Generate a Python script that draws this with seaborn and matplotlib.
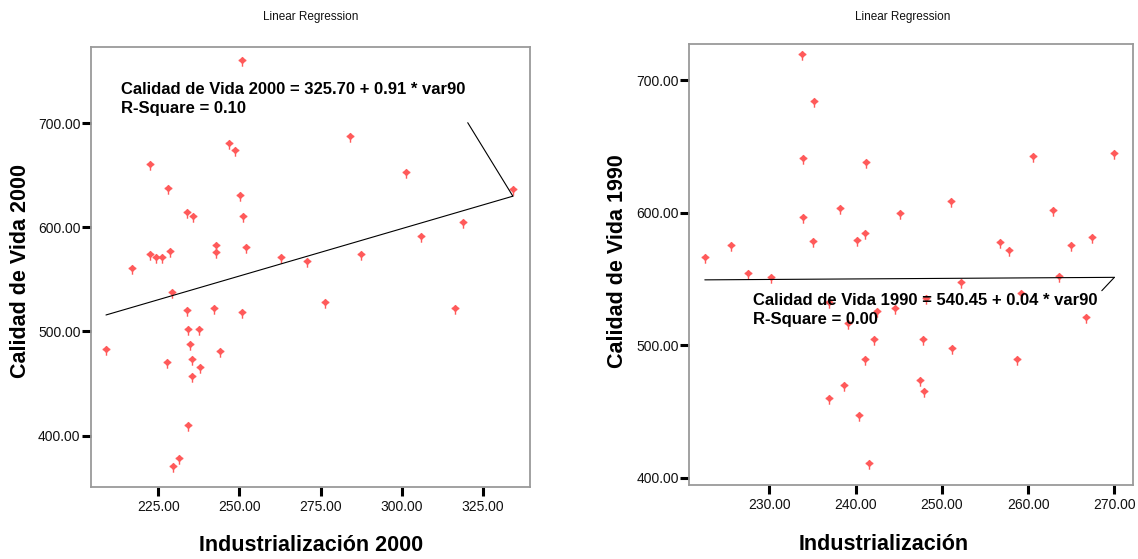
import matplotlib
matplotlib.use("Agg")
import numpy as np
import matplotlib.pyplot as plt
from matplotlib.path import Path
import seaborn as sns

# --- data ------------------------------------------------------------------
# left panel: Industrialización 2000 vs Calidad de Vida 2000
ind_2000 = [250.7, 222.5, 228.1, 246.8, 248.7, 284.0, 301.4, 334.2, 250.1, 251.2,
            233.7, 235.7, 318.8, 306.0, 222.4, 224.3, 226.3, 228.6, 242.7, 242.7,
            252.0, 262.8, 270.8, 287.4, 216.8, 229.1, 233.8, 242.2, 250.8, 276.5,
            316.5, 234.2, 237.5, 208.9, 234.8, 244.1, 235.3, 227.7, 238.0, 235.3,
            234.2, 231.4, 229.5]
cv_2000 = [760.9, 660.9, 638.0, 680.8, 674.6, 688.0, 653.5, 636.5, 630.8, 611.2,
           614.4, 611.2, 605.4, 592.0, 574.0, 571.2, 571.5, 577.5, 582.7, 576.5,
           580.8, 571.2, 567.6, 574.0, 560.6, 538.0, 520.2, 522.1, 518.3, 527.9,
           522.1, 502.5, 501.9, 483.3, 487.5, 481.7, 474.0, 470.8, 465.4, 457.3,
           410.6, 378.8, 370.8]
fit_2000 = (325.70, 0.91, 0.10)   # intercept, slope, R²

# right panel: Industrialización vs Calidad de Vida 1990
ind_1990 = [233.8, 235.2, 233.9, 241.2, 260.6, 270.0, 251.0, 238.2, 233.9, 245.1,
            262.9, 241.1, 240.2, 235.0, 256.7, 257.8, 265.0, 267.4, 225.5, 222.5,
            227.5, 230.2, 252.2, 263.6, 259.2, 248.1, 236.9, 242.5, 244.6, 239.1,
            266.7, 242.1, 247.8, 251.2, 258.7, 241.1, 238.7, 236.9, 247.4, 247.9,
            240.4, 241.6]
cv_1990 = [719.6, 684.2, 641.1, 638.1, 643.1, 644.9, 608.7, 603.4, 597.1, 599.6,
           601.9, 584.5, 579.7, 578.5, 577.7, 571.7, 575.5, 582.0, 575.5, 566.9,
           554.3, 551.8, 547.5, 552.3, 539.2, 535.9, 532.9, 525.9, 528.4, 517.0,
           521.1, 504.5, 504.5, 497.7, 489.4, 489.4, 469.8, 460.0, 473.8, 465.5,
           447.4, 410.9]
fit_1990 = (540.45, 0.04, 0.00)

x_ticks_2000 = [225, 250, 275, 300, 325]
x_ticks_1990 = [230, 240, 250, 260, 270]
y_ticks = [400, 500, 600, 700]

POINT = "#ff5a5a"
SPINE = "#9a9a9a"

# SPSS-ish point glyph: small diamond with cross bar and a tail below
_verts = [(0, 0.75), (0.75, 0), (0, -0.75), (-0.75, 0), (0, 0.75),
          (-1.0, 0), (1.0, 0),
          (0, -0.75), (0, -1.6)]
_codes = [Path.MOVETO, Path.LINETO, Path.LINETO, Path.LINETO, Path.CLOSEPOLY,
          Path.MOVETO, Path.LINETO,
          Path.MOVETO, Path.LINETO]
MARK = Path(_verts, _codes)

sns.set_theme(style="white")
plt.rcParams["font.family"] = ["Liberation Sans", "DejaVu Sans"]

fig = plt.figure(figsize=(11.38, 5.59), dpi=100)
ax_l = fig.add_axes([0.0800, 0.1288, 0.3858, 0.7871])
ax_r = fig.add_axes([0.6057, 0.1324, 0.3902, 0.7889])


def panel(ax, xs, ys, fit, xlim, ylim, xticks, yname, xname, lbl_pos, lead_from,
          ylab_xy, xlab_xy):
    icpt, slope, r2 = fit
    sns.scatterplot(x=xs, y=ys, ax=ax, marker=MARK, s=80, color=POINT,
                    edgecolor=POINT, linewidth=1.0, zorder=3)
    xr = np.array([min(xs), max(xs)])
    sns.lineplot(x=xr, y=icpt + slope * xr, ax=ax, color="black", lw=0.8, zorder=4)
    ax.annotate("", xy=(xr[1], icpt + slope * xr[1]), xycoords="data",
                xytext=lead_from, textcoords="axes fraction",
                arrowprops=dict(arrowstyle="-", color="black", lw=0.8,
                                shrinkA=0, shrinkB=0), zorder=4)
    ax.text(lbl_pos[0], lbl_pos[1],
            f"{yname} = {icpt:.2f} + {slope:.2f} * var90\nR-Square = {r2:.2f}",
            transform=ax.transAxes, ha="left", va="top", fontsize=12,
            fontweight="bold", linespacing=1.3, color="black", zorder=5)
    ax.set_xlim(*xlim)
    ax.set_ylim(*ylim)
    ax.set_xticks(xticks)
    ax.set_yticks(y_ticks)
    ax.set_xticklabels([f"{v:.2f}" for v in xticks])
    ax.set_yticklabels([f"{v:.2f}" for v in y_ticks])
    ax.tick_params(axis="both", which="major", direction="out", length=6.5,
                   width=2.2, color="black", labelsize=10, labelcolor="#111111",
                   bottom=True, left=True)
    ax.tick_params(axis="y", pad=1)
    ax.tick_params(axis="x", pad=3)
    for sp in ax.spines.values():
        sp.set_color(SPINE)
        sp.set_linewidth(1.3)
    ax.set_ylabel(yname, fontsize=15.5, fontweight="bold", color="black")
    ax.set_xlabel(xname, fontsize=15.5, fontweight="bold", color="black")
    ax.yaxis.set_label_coords(*ylab_xy)
    ax.xaxis.set_label_coords(*xlab_xy)
    ax.yaxis.label.set_va("center")
    ax.xaxis.label.set_va("center")


panel(ax_l, ind_2000, cv_2000, fit_2000, (204.3, 339.5), (350.7, 773.0),
      x_ticks_2000, "Calidad de Vida 2000", "Industrialización 2000",
      (0.0677, 0.920), (0.858, 0.828), (-0.1617, 0.4898), (0.501, -0.134))
panel(ax_r, ind_1990, cv_1990, fit_1990, (220.7, 272.2), (394.5, 727.4),
      x_ticks_1990, "Calidad de Vida 1990", "Industrialización",
      (0.144, 0.435), (0.929, 0.4406), (-0.1607, 0.508), (0.4377, -0.136))

fig.text(311 / 1138, 1 - 17 / 559, "Linear Regression", ha="center", va="center",
         fontsize=8.5, color="#111111")
fig.text(903 / 1138, 1 - 17 / 559, "Linear Regression", ha="center", va="center",
         fontsize=8.5, color="#111111")

fig.savefig("out.png", dpi=100, facecolor="white")
plt.close(fig)
